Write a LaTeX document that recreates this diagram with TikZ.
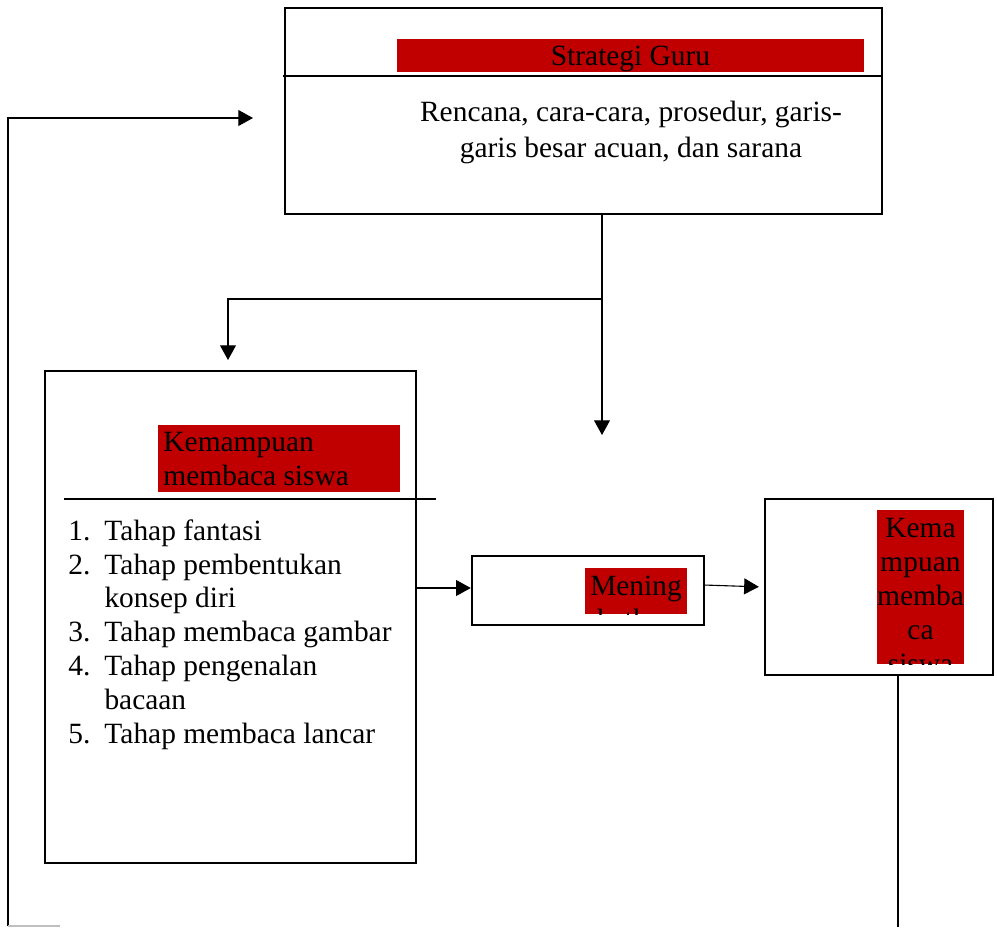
\documentclass[tikz,border=0pt]{standalone}
\usepackage{fontspec}
\setmainfont{Liberation Serif}
\usepackage{xcolor}
\usepackage{tikz}
\usetikzlibrary{arrows.meta, positioning, fit}
\definecolor{merah}{RGB}{192,0,0}

\begin{document}
\begin{tikzpicture}[x=0.408pt, y=-0.408pt, every node/.style={font=\fontsize{12}{13.8}\selectfont, inner sep=0pt},
  kotak/.style={draw, rectangle, line width=1pt},
  tanda/.style={fill=merah},
  panah/.style={-{Triangle[length=6pt, width=6.5pt]}, line width=0.45pt}]
  \useasboundingbox (0,0) rectangle (997,927);

  % kotak utama
  \node[kotak, fit={(285,8) (882,214)}] (guru) {};
  \node[kotak, fit={(45,371) (416,863)}] (siswa) {};
  \node[kotak, fit={(472,556) (704,625)}] (mening) {};
  \node[kotak, fit={(765,499) (993,675)}] (hasil) {};

  % strategi guru
  \node[tanda, fit={(397,39) (864,72)}] (judulguru) {};
  \node[anchor=base] at (judulguru.center |- 0,65) {Strategi Guru};
  \draw[line width=0.5pt] (283,76) -- (882,76);
  \node[anchor=north, align=center, font=\fontsize{12}{14.7}\selectfont] (isiguru) at (631,101)
    {Rencana, cara-cara, prosedur, garis-\\garis besar acuan, dan sarana};

  % kemampuan membaca siswa
  \node[tanda, fit={(158,425) (400,492)}] (judulsiswa) {};
  \node[anchor=north west, align=left] at (163,432) {Kemampuan\\membaca siswa};
  \draw[line width=0.5pt] (64,499) -- (436,499);
  \node[anchor=north west, align=left] (tahap) at (68,519)
    {\makebox[14.7pt][l]{1.}Tahap fantasi\\
     \makebox[14.7pt][l]{2.}Tahap pembentukan\\
     \hspace*{14.7pt}konsep diri\\
     \makebox[14.7pt][l]{3.}Tahap membaca gambar\\
     \makebox[14.7pt][l]{4.}Tahap pengenalan\\
     \hspace*{14.7pt}bacaan\\
     \makebox[14.7pt][l]{5.}Tahap membaca lancar};

  % meningkatkan
  \node[tanda, fit={(585,568) (687,614)}] (judulmening) {};
  \begin{scope}
    \clip (judulmening.south west) rectangle (judulmening.north east);
    \node[anchor=north, align=center] at (636,576) {Mening\\katkan};
  \end{scope}

  % hasil
  \node[tanda, fit={(877,510) (964,664)}] (judulhasil) {};
  \begin{scope}
    \clip (judulhasil.south west) rectangle (judulhasil.north east);
    \node[anchor=north, align=center] at (920.5,518) {Kema\\mpuan\\memba\\ca\\siswa};
  \end{scope}

  % titik bantu
  \coordinate (cabang) at (602,299);
  \coordinate (ujungtengah) at (602,435);
  \coordinate (ujungkiri) at (228,360);
  \coordinate (ujungatas) at (253,118);
  \coordinate (bawahkiri) at (8,926);
  \coordinate (pudar) at (60,926);
  \coordinate (bawahkanan) at (898,927);
  \coordinate (masuk) at (416,588);
  \coordinate (keluar) at (704,585);

  % garis penghubung
  \draw[panah] (guru.south -| cabang) -- (ujungtengah);
  \draw[panah] (cabang) -| (ujungkiri);
  \draw[panah] (masuk) -- (mening.west |- masuk);
  \draw[panah, shorten >=2pt] (keluar) -- (hasil.west |- 0,587);
  \draw[line width=0.45pt] (hasil.south -| bawahkanan) -- (bawahkanan);
  \draw[panah] (bawahkiri) |- (ujungatas);
  \draw[black!25, line width=0.45pt] (bawahkiri) -- (pudar);
\end{tikzpicture}
\end{document}
